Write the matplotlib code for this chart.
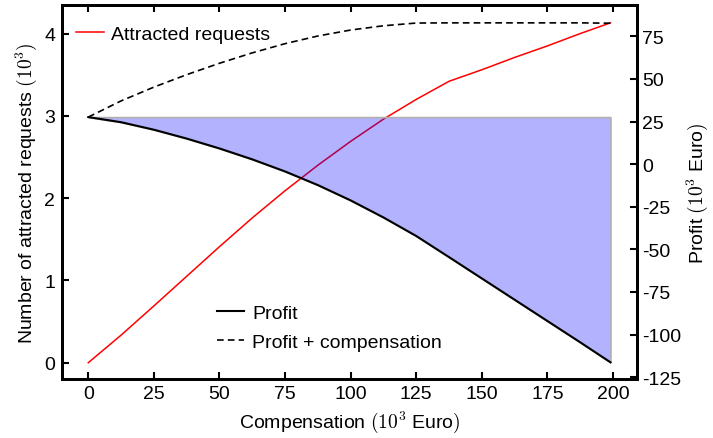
#!/usr/bin/env python3
"""Attracted requests and operator profit versus the compensation offered.

Left axis: number of attracted requests (thousands). Right axis: profit and
profit + compensation (thousand Euro); the shaded band is the profit lost
relative to offering no compensation.
"""

import matplotlib

matplotlib.use("Agg")
import matplotlib.pyplot as plt  # noqa: E402
import numpy as np  # noqa: E402

plt.rcParams["font.family"] = ["Liberation Sans", "DejaVu Sans"]
plt.rcParams["mathtext.fontset"] = "cm"
plt.rcParams["font.size"] = 14
plt.rcParams["axes.unicode_minus"] = False

# compensation offered (10^3 Euro)
compensation = [0, 12.5, 25, 37.5, 50, 62.5, 75, 87.5, 100, 112.5, 125, 137.5,
                150, 162.5, 175, 187.5, 199]
# attracted requests (10^3)
requests = [0.0, 0.335, 0.69, 1.05, 1.41, 1.76, 2.09, 2.40, 2.69, 2.96, 3.20, 3.42,
            3.56, 3.71, 3.85, 4.00, 4.13]
# profit (10^3 Euro)
profit = [27.6, 24.6, 20.2, 15.0, 9.2, 2.8, -4.3, -12.3, -21.3, -31.3, -42.2, -54.6,
          -67.1, -79.6, -92.1, -104.6, -116.3]

comp = np.array(compensation)
prof = np.array(profit)

fig = plt.figure(figsize=(7.13, 4.39), dpi=100)
ax = fig.add_axes([0.087, 0.134, 0.806, 0.852])
ax2 = ax.twinx()

ax.plot(comp, requests, color="red", lw=1.1, label="Attracted requests")

# profit given up compared with paying no compensation
ax2.fill_between(comp, prof, prof[0], facecolor=(0, 0, 1, 0.3),
                 edgecolor="#b0b0b0", lw=1.2)
ax2.plot(comp, prof, color="black", lw=1.5, label="Profit")
ax2.plot(comp, prof + comp, color="black", lw=1.2, ls=(0, (4, 2.5)),
         label="Profit + compensation")

ax.set_xlim(-10, 209)
ax.set_ylim(-0.2, 4.345)
ax2.set_ylim(-126.2, 93.3)
ax.set_xticks(np.arange(0, 201, 25))
ax.set_yticks(range(0, 5))
ax2.set_yticks(np.arange(-125, 76, 25))

ax.set_xlabel("Compensation $(10^3$ Euro$)$", labelpad=5)
ax.set_ylabel("Number of attracted requests $(10^3)$", labelpad=4)
ax2.set_ylabel("Profit $(10^3$ Euro$)$", labelpad=2)

for a in (ax, ax2):
    for s in a.spines.values():
        s.set_linewidth(2.0)
ax.tick_params(axis="x", direction="in", top=True, length=5, width=1.5, pad=4)
ax.tick_params(axis="y", direction="in", length=5, width=1.5, pad=5)
ax2.tick_params(axis="y", direction="in", length=5, width=1.5, pad=4)

ax.legend(loc="upper left", bbox_to_anchor=(0.025, 0.946), frameon=False,
          borderpad=0, borderaxespad=0, handlelength=1.4, handletextpad=0.4)
ax2.legend(loc="upper left", bbox_to_anchor=(0.27, 0.2), frameon=False,
           borderpad=0, borderaxespad=0, handlelength=1.4, handletextpad=0.4,
           labelspacing=0.6)

fig.savefig("out.png", dpi=100)
